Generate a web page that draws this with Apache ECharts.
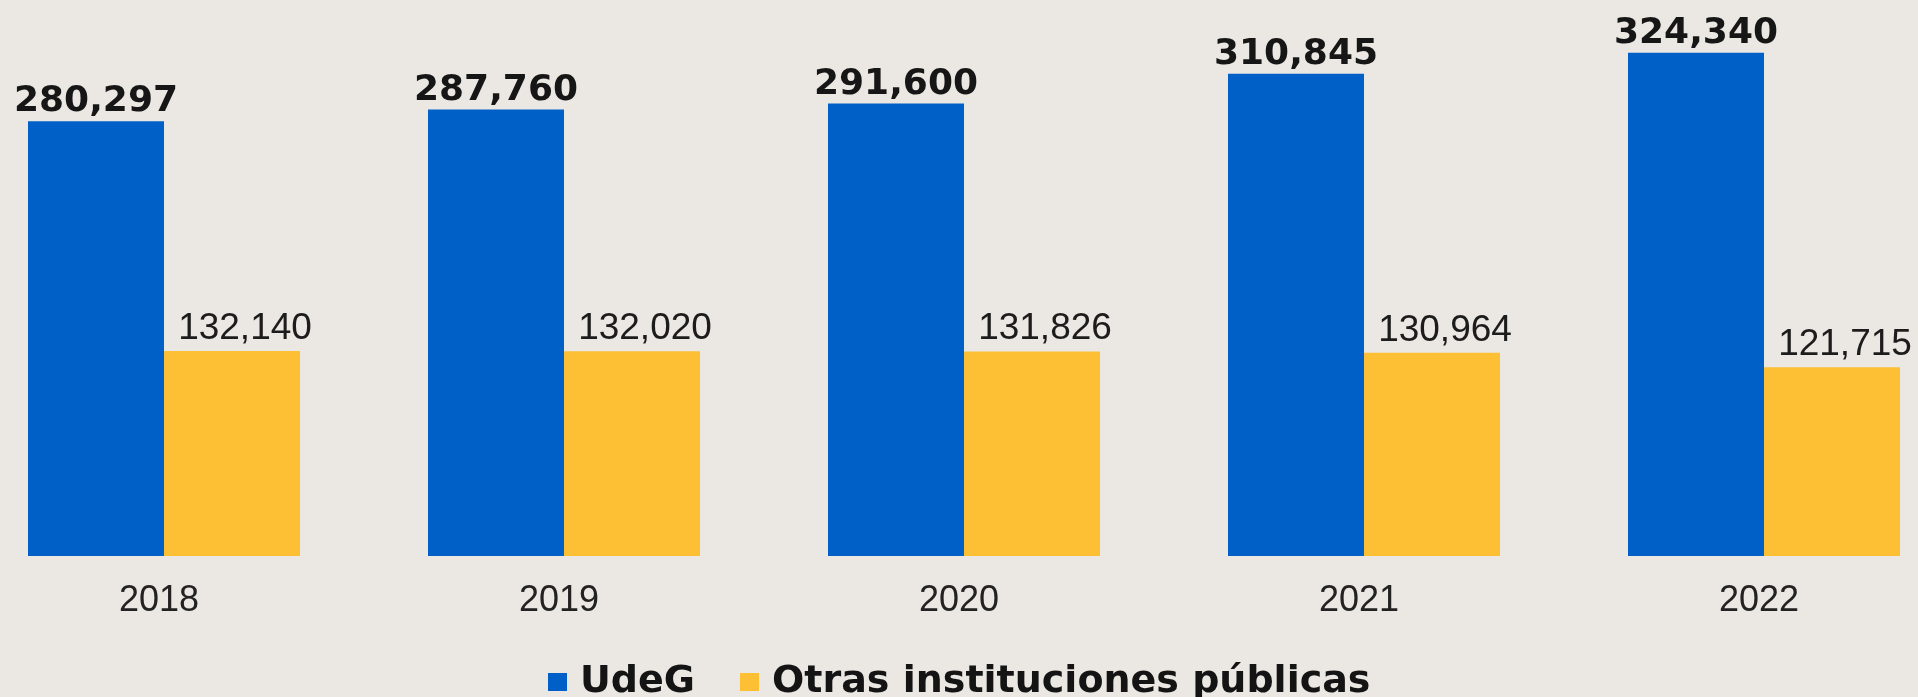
<!DOCTYPE html>
<html>
<head>
<meta charset="utf-8">
<script src="https://cdn.jsdelivr.net/npm/echarts@6/dist/echarts.min.js"></script>
<style>
html,body{margin:0;padding:0;background:#ebe7e2;}
#chart{width:1918px;height:697px;}
</style>
</head>
<body>
<div id="chart"></div>
<script>
const years = ['2018', '2019', '2020', '2021', '2022'];
const udegValues = [280297, 287760, 291600, 310845, 324340];
const otrasValues = [132140, 132020, 131826, 130964, 121715];
const seriesNames = ['UdeG', 'Otras instituciones públicas'];

const fmt = v => v.toLocaleString('en-US');

const chart = echarts.init(document.getElementById('chart'));
chart.setOption({
  backgroundColor: '#ebe7e2',
  animation: false,
  grid: { left: -36, right: -46, top: 13, bottom: 141, outerBoundsMode: 'none', containLabel: false },
  legend: {
    left: 543,
    top: 658,
    itemWidth: 19,
    itemHeight: 18,
    itemGap: 45,
    icon: 'rect',
    data: seriesNames,
    textStyle: {
      fontFamily: 'DejaVu Sans',
      fontWeight: 'bold',
      fontSize: 38,
      lineHeight: 38,
      color: '#141414',
      padding: [0, 0, 0, 8]
    }
  },
  xAxis: {
    type: 'category',
    data: years,
    axisLine: { show: false },
    axisTick: { show: false },
    axisLabel: {
      fontFamily: 'Liberation Sans',
      fontSize: 36,
      color: '#222',
      margin: 27,
      padding: [0, 10, 0, 0]
    }
  },
  yAxis: {
    type: 'value',
    min: 0,
    max: 350000,
    show: false,
    splitLine: { show: false }
  },
  series: [
    {
      name: seriesNames[0],
      type: 'bar',
      data: udegValues,
      barWidth: 136,
      barGap: '0%',
      itemStyle: { color: '#0060c8' },
      label: {
        show: true,
        position: 'top',
        distance: 1,
        formatter: p => fmt(p.value),
        fontFamily: 'DejaVu Sans',
        fontWeight: 'bold',
        fontSize: 36,
        color: '#161616'
      }
    },
    {
      name: seriesNames[1],
      type: 'bar',
      data: otrasValues,
      barWidth: 136,
      barGap: '0%',
      itemStyle: { color: '#fdbf33' },
      label: {
        show: true,
        position: 'top',
        distance: 4,
        offset: [13, 0],
        formatter: p => fmt(p.value),
        fontFamily: 'Liberation Sans',
        fontSize: 37,
        color: '#1c1c1c'
      }
    }
  ]
});
</script>
</body>
</html>
